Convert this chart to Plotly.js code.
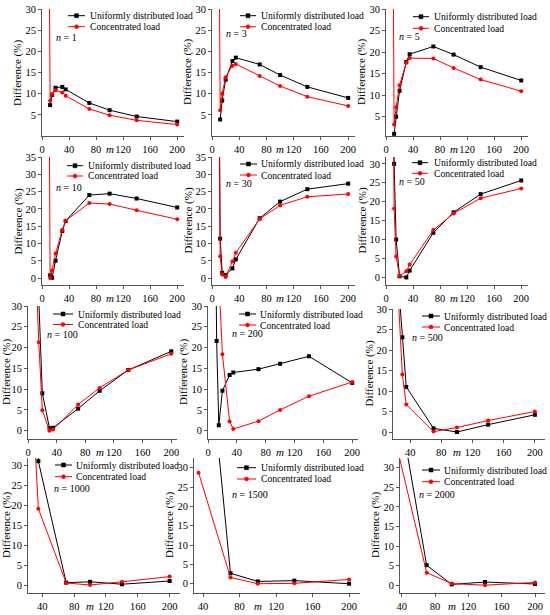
<!DOCTYPE html>
<html><head><meta charset="utf-8">
<script src="https://cdn.plot.ly/plotly-3.0.1.min.js"></script>
<style>html,body{margin:0;padding:0;background:#fff}#chart{width:550px;height:615px}</style>
</head><body><div id="chart"></div>
<script>
// ---------- DATA ----------
const m = [10, 12, 15, 20, 30, 35, 70, 100, 140, 200];
const nValues = ['1', '3', '5', '10', '30', '50', '100', '200', '500', '1000', '1500', '2000'];
const seriesNames = ['Uniformly distributed load', 'Concentrated load'];

const uniform_n1    = [null, 7.3, 9.7, 11.4, 11.6, 11.0, 7.8, 6.1, 4.6, 3.4];
const concentrated_n1 = [60, 8.3, 9.9, 10.8, 10.3, 9.5, 6.4, 4.9, 3.7, 2.7];
const uniform_n3    = [null, 3.9, 8.4, 13.3, 17.7, 18.5, 16.9, 14.4, 11.6, 9.0];
const concentrated_n3 = [60, 6.1, 10.0, 13.9, 16.6, 17.0, 14.2, 11.8, 9.3, 7.1];
const uniform_n5    = [null, 1.0, 5.0, 11.0, 17.7, 19.5, 21.3, 19.4, 16.5, 13.4];
const concentrated_n5 = [60, 3.2, 7.2, 12.3, 17.5, 18.6, 18.5, 16.3, 13.6, 10.9];
const uniform_n10   = [null, 0.8, 0.1, 5.0, 13.6, 16.5, 24.0, 24.4, 23.0, 20.4];
const concentrated_n10 = [80, 0.0, 2.2, 7.1, 13.9, 16.6, 21.7, 21.4, 19.6, 17.0];
const uniform_n30   = [60, 11.4, 1.5, 0.9, 2.8, 5.4, 17.3, 22.1, 25.7, 27.3];
const concentrated_n30 = [80, 6.3, 1.0, 0.3, 4.8, 7.3, 17.1, 21.0, 23.5, 24.3];
const uniform_n50   = [70, 30.0, 10.0, 0.3, 0.0, 1.8, 11.8, 17.2, 22.0, 25.6];
const concentrated_n50 = [60, 18.2, 5.5, 0.4, 1.6, 3.4, 12.5, 16.9, 20.9, 23.5];
const uniform_n100  = [80, 60, 31.8, 9.0, 0.6, 0.7, 5.3, 9.6, 14.6, 19.1];
const concentrated_n100 = [80, 35, 21.3, 4.9, 0.0, 0.3, 6.3, 10.3, 14.6, 18.5];
const uniform_n200  = [60, 21.6, 1.3, 9.6, 13.4, 14.0, 14.8, 16.1, 17.9, 11.5];
const concentrated_n200 = [70, 60, 36.5, 18.4, 2.2, 0.4, 2.3, 5.0, 8.3, 11.7];
const uniform_n500  = [null, null, null, 48.6, 23.1, 11.0, 0.9, 0.0, 1.8, 4.2];
const concentrated_n500 = [null, null, null, 50.4, 14.0, 6.7, 0.1, 1.1, 2.8, 5.0];
const uniform_n1000 = [null, null, null, null, 80, 31.0, 0.6, 0.8, 0.2, 1.0];
const concentrated_n1000 = [null, null, null, null, 37.8, 19.1, 0.5, 0.0, 0.8, 2.1];
const uniform_n1500 = [null, null, null, null, null, 88, 2.7, 0.6, 0.8, 0.0];
const concentrated_n1500 = [null, null, null, null, null, 28.7, 1.6, 0.0, 0.1, 1.1];
const uniform_n2000 = [null, null, null, null, null, 47.9, 5.1, 0.2, 0.8, 0.3];
const concentrated_n2000 = [null, null, null, null, null, 34.7, 3.2, 0.4, 0.0, 0.7];

const uniformSeries = [uniform_n1, uniform_n3, uniform_n5, uniform_n10, uniform_n30, uniform_n50,
  uniform_n100, uniform_n200, uniform_n500, uniform_n1000, uniform_n1500, uniform_n2000];
const concentratedSeries = [concentrated_n1, concentrated_n3, concentrated_n5, concentrated_n10,
  concentrated_n30, concentrated_n50, concentrated_n100, concentrated_n200, concentrated_n500,
  concentrated_n1000, concentrated_n1500, concentrated_n2000];

const xTicksLow = [0, 40, 80, 120, 160, 200];
const xTicksHigh = [40, 80, 120, 160, 200];
const yTicks5to30 = [5, 10, 15, 20, 25, 30];
const yTicks0to35 = [0, 5, 10, 15, 20, 25, 30, 35];
const yTicks0to30 = [0, 5, 10, 15, 20, 25, 30];

// ---------- LAYOUT CONFIG ----------
const W = 550, H = 615;
const px2x = p => p / W;
const px2y = p => 1 - p / H;
const FONT = 'Liberation Serif, Times New Roman, serif';
const TICK_SIZE = 10.5, LEG_SIZE = 9.6, TITLE_SIZE = 11, N_SIZE = 10;

// box: [left, right, top, bottom] px; nl: n-label [x, y]; lg: legend [lineX0, lineX1, textX, y1, y2]
const panels = [
  {box: [42, 184, 9, 136],   xr: [0, 210],  yr: [0, 30],     xt: xTicksLow,  yt: yTicks5to30, nl: [54, 37],   lg: [68, 85, 88, 15.7, 26.7]},
  {box: [212, 355, 9, 136],  xr: [0, 210],  yr: [0, 30],     xt: xTicksLow,  yt: yTicks5to30, nl: [224, 33],  lg: [240, 256, 259, 15.7, 26.7]},
  {box: [386, 528, 9, 136],  xr: [0, 210],  yr: [0.5, 30],   xt: xTicksLow,  yt: yTicks5to30, nl: [397, 36],  lg: [413, 429, 432, 16.7, 28.3]},
  {box: [42, 184, 157, 285], xr: [0, 210],  yr: [-2, 35],    xt: xTicksLow,  yt: yTicks0to35, nl: [54, 188],  lg: [67, 83, 86, 165.7, 176]},
  {box: [212, 355, 157, 285],xr: [0, 210],  yr: [-2, 35],    xt: xTicksLow,  yt: yTicks0to35, nl: [224, 183], lg: [240, 257, 259, 164, 175]},
  {box: [386, 528, 157, 285],xr: [0, 210],  yr: [-2, 31.8],  xt: xTicksLow,  yt: yTicks0to30, nl: [397, 182], lg: [412, 428, 432, 162.7, 173.3]},
  {box: [28, 177, 306, 439], xr: [0, 208],  yr: [-2, 30],    xt: xTicksLow,  yt: yTicks0to30, nl: [45, 334],  lg: [53, 73, 76, 314, 324.5]},
  {box: [208, 358, 306, 439],xr: [0, 208],  yr: [-2, 30],    xt: xTicksLow,  yt: yTicks0to30, nl: [230, 333], lg: [239, 256, 258, 314, 325]},
  {box: [393, 545, 309, 439],xr: [18, 213], yr: [-1.7, 30],  xt: xTicksHigh, yt: yTicks0to30, nl: [410, 337], lg: [422, 440, 442, 316, 327]},
  {box: [28, 180, 458, 593], xr: [22, 213], yr: [-2, 31.8],  xt: xTicksHigh, yt: yTicks0to30, nl: [52, 488],  lg: [55, 72, 74, 465, 476.7]},
  {box: [194, 360, 458, 593],xr: [30, 212], yr: [-2.4, 32.5],xt: xTicksHigh, yt: yTicks0to30, nl: [230, 494], lg: [237, 256, 259, 467.7, 479]},
  {box: [400, 545, 458, 593],xr: [38, 212], yr: [-2, 32.5],  xt: xTicksHigh, yt: yTicks0to30, nl: [417, 494], lg: [422, 440, 442, 470, 481.7]}
];

const colors = ['#000000', '#ff0000'];
const symbols = ['square', 'circle'];

const traces = [];
const layout = {
  width: W, height: H,
  margin: {l: 0, r: 0, t: 0, b: 0},
  paper_bgcolor: '#fff', plot_bgcolor: '#fff',
  showlegend: false,
  font: {family: FONT, size: TICK_SIZE, color: '#000'},
  shapes: [], annotations: []
};

panels.forEach((p, i) => {
  const k = i === 0 ? '' : String(i + 1);
  const xa = 'x' + k, ya = 'y' + k;
  [uniformSeries[i], concentratedSeries[i]].forEach((vals, s) => {
    traces.push({
      type: 'scatter', mode: 'lines+markers',
      x: m, y: vals, xaxis: xa, yaxis: ya,
      name: seriesNames[s], showlegend: false, connectgaps: false,
      line: {color: colors[s], width: 1},
      marker: {color: colors[s], size: 4, symbol: symbols[s]},
      hoverinfo: 'x+y+name'
    });
  });
  const axCommon = {
    showline: true, linecolor: '#555', linewidth: 1,
    ticks: 'outside', ticklen: 3, tickcolor: '#555', tickwidth: 1,
    showgrid: false, zeroline: false,
    tickfont: {family: FONT, size: TICK_SIZE, color: '#000'}
  };
  layout['xaxis' + k] = Object.assign({}, axCommon, {
    domain: [px2x(p.box[0]), px2x(p.box[1])],
    range: p.xr, tickmode: 'array', tickvals: p.xt,
    anchor: ya
  });
  layout['yaxis' + k] = Object.assign({}, axCommon, {
    domain: [px2y(p.box[3]), px2y(p.box[2])],
    range: p.yr, tickmode: 'array', tickvals: p.yt,
    anchor: xa
  });
  // y axis title, kept close to the tick labels as in the reference
  const tx0 = Math.max(p.box[0] - 24.5, 6.5);
  layout.annotations.push({
    xref: 'paper', yref: 'paper', x: px2x(tx0), y: px2y((p.box[2] + p.box[3]) / 2),
    xanchor: 'center', yanchor: 'middle', textangle: -90, showarrow: false,
    text: 'Difference (%)', font: {family: FONT, size: TITLE_SIZE, color: '#000'}
  });
  // m axis label, placed between the 80 and 120 tick labels as in the reference
  const mx = p.box[0] + (100 - p.xr[0]) / (p.xr[1] - p.xr[0]) * (p.box[1] - p.box[0]);
  layout.annotations.push({
    xref: 'paper', yref: 'paper', x: px2x(mx), y: px2y(p.box[3] + 12.5),
    xanchor: 'center', yanchor: 'middle', showarrow: false,
    text: '<i>m</i>', font: {family: FONT, size: TITLE_SIZE, color: '#000'}
  });
  // n label
  layout.annotations.push({
    xref: 'paper', yref: 'paper', x: px2x(p.nl[0]), y: px2y(p.nl[1]),
    xanchor: 'left', yanchor: 'middle', showarrow: false,
    text: '<i>n</i> = ' + nValues[i], font: {family: FONT, size: N_SIZE, color: '#000'}
  });
  // legend (drawn per panel)
  const [lx0, lx1, tx, ly1, ly2] = p.lg;
  [ly1, ly2].forEach((ly, s) => {
    layout.shapes.push({
      type: 'line', xref: 'paper', yref: 'paper',
      x0: px2x(lx0), x1: px2x(lx1), y0: px2y(ly), y1: px2y(ly),
      line: {color: colors[s], width: 1}
    });
    layout.shapes.push({
      type: s === 0 ? 'rect' : 'circle', xref: 'paper', yref: 'paper',
      xsizemode: 'pixel', ysizemode: 'pixel',
      xanchor: px2x((lx0 + lx1) / 2), yanchor: px2y(ly),
      x0: -2, x1: 2, y0: -2, y1: 2,
      line: {color: colors[s], width: 0.5}, fillcolor: colors[s]
    });
    layout.annotations.push({
      xref: 'paper', yref: 'paper', x: px2x(tx), y: px2y(ly),
      xanchor: 'left', yanchor: 'middle', showarrow: false,
      text: seriesNames[s], font: {family: FONT, size: LEG_SIZE, color: '#000'}
    });
  });
});

Plotly.newPlot('chart', traces, layout, {displayModeBar: false, staticPlot: true});
</script>
</body></html>
